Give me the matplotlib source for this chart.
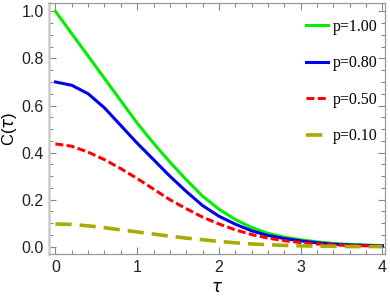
import matplotlib.pyplot as plt
from matplotlib.ticker import MultipleLocator

# values
tau = [0.0, 0.2, 0.4, 0.6, 0.8, 1.0, 1.2, 1.4, 1.6, 1.8, 2.0,
       2.2, 2.4, 2.6, 2.8, 3.0, 3.2, 3.4, 3.6, 3.8, 4.0]
c_p100 = [1.0, 0.905, 0.81, 0.715, 0.62, 0.525, 0.44, 0.36, 0.285, 0.215,
          0.16, 0.116, 0.082, 0.057, 0.041, 0.030, 0.021, 0.014, 0.010,
          0.007, 0.005]
c_p080 = [0.700, 0.686, 0.650, 0.590, 0.515, 0.440, 0.370, 0.300, 0.235,
          0.175, 0.130, 0.096, 0.068, 0.048, 0.035, 0.025, 0.017, 0.011,
          0.008, 0.006, 0.004]
c_p050 = [0.437, 0.427, 0.402, 0.37, 0.332, 0.29, 0.245, 0.2, 0.162, 0.126,
          0.097, 0.072, 0.052, 0.037, 0.026, 0.018, 0.012, 0.008, 0.006,
          0.004, 0.003]
c_p010 = [0.097, 0.095, 0.089, 0.081, 0.072, 0.063, 0.054, 0.045, 0.037,
          0.030, 0.023, 0.017, 0.012, 0.009, 0.006, 0.004, 0.003, 0.002,
          0.001, 0.001, 0.001]
labels = ["p=1.00", "p=0.80", "p=0.50", "p=0.10"]

fig = plt.figure(figsize=(3.9, 3.08), dpi=100)
ax = fig.add_axes([0.126, 0.175, 0.861, 0.815])

ax.plot(tau, c_p100, color="#00ee00", lw=2.2, label=labels[0])
ax.plot(tau, c_p080, color="#0000ee", lw=2.2, label=labels[1])
ax.plot(tau, c_p050, color="#ff0000", lw=2.2, dashes=(2.6, 1.1), label=labels[2])
ax.plot(tau, c_p010, color="#aaaa00", lw=2.6, dashes=(4.5, 2.2), label=labels[3])

ax.set_xlim(-0.077, 4.03)
ax.set_ylim(-0.031, 1.035)
ax.xaxis.set_major_locator(MultipleLocator(1))
ax.xaxis.set_minor_locator(MultipleLocator(0.2))
ax.yaxis.set_major_locator(MultipleLocator(0.2))
ax.yaxis.set_minor_locator(MultipleLocator(0.05))
ax.tick_params(which="both", direction="in", top=True, right=True,
               color="#888888", width=0.8)
ax.tick_params(which="major", length=5, labelsize=11.5, pad=4,
               labelfontfamily="Liberation Sans", labelcolor="#222222")
ax.tick_params(which="minor", length=3)
for s in ax.spines.values():
    s.set_color("#999999")
    s.set_linewidth(0.9)
ax.spines["left"].set_color("#cccccc")
ax.spines["left"].set_linewidth(1.8)

ax.set_xlabel(r"$\tau$", fontsize=12, family="Liberation Serif", labelpad=4)
ax.set_ylabel(r"C($\tau$)", fontsize=12, family="Liberation Sans")
ax.yaxis.set_label_coords(-0.09, 0.5)

leg = ax.legend(loc="upper right", bbox_to_anchor=(0.998, 0.962),
                frameon=False, handlelength=1.38, labelspacing=1.28,
                handletextpad=0.3, borderaxespad=0, borderpad=0.4,
                prop={"family": "Liberation Serif", "size": 11.5})

fig.savefig("out.png", dpi=100)
